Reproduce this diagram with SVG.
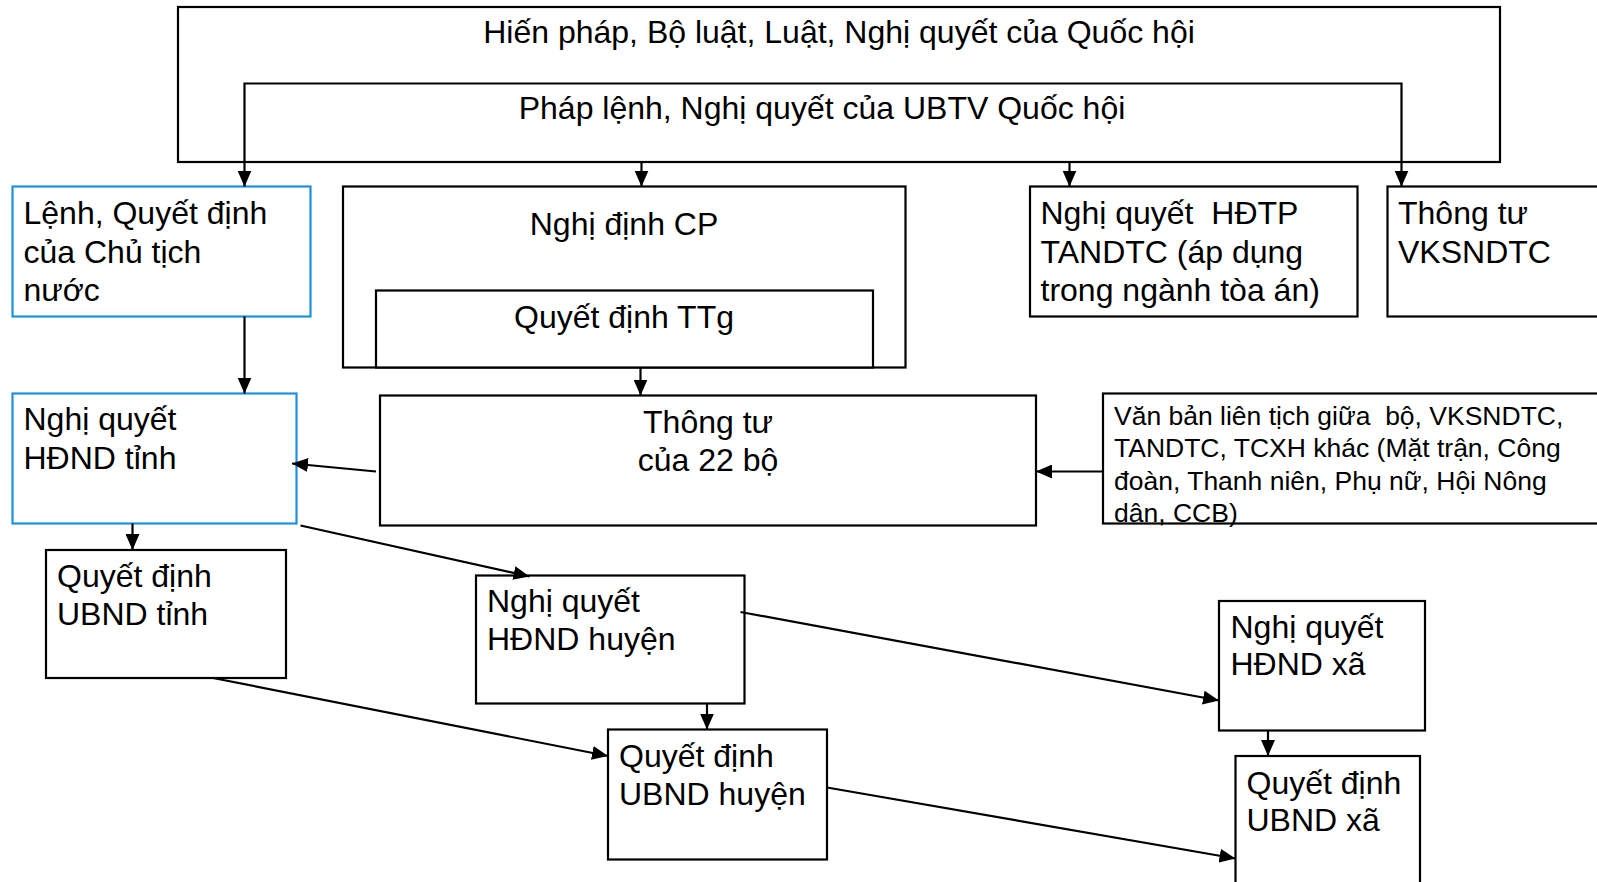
<svg xmlns="http://www.w3.org/2000/svg" width="1597" height="882" viewBox="0 0 1597 882">
<defs>
<style>
.box{fill:#fff;stroke:#000;stroke-width:2.2}
.bbox{fill:#fff;stroke:#1e90dc;stroke-width:2.2}
.t{font-family:"Liberation Sans",Arial,sans-serif;font-size:32px;fill:#000;white-space:pre}
.s{font-family:"Liberation Sans",Arial,sans-serif;font-size:26.5px;fill:#000;white-space:pre}
.c{text-anchor:middle}
.ln{fill:none;stroke:#000;stroke-width:2.2}
</style>
<marker id="ah" markerWidth="16" markerHeight="14" refX="16" refY="7" orient="auto" markerUnits="userSpaceOnUse"><path d="M0,0 L16,7 L0,14 z" fill="#000"/></marker>
</defs>
<rect width="1597" height="882" fill="#fff"/>

<g id="n-quochoi">
<rect class="box" x="178" y="7" width="1322" height="155"/>
<text class="t c" x="839" y="43">Hiến pháp, Bộ luật, Luật, Nghị quyết của Quốc hội</text>
</g>
<g id="n-ubtv">
<text class="t c" x="822" y="119">Pháp lệnh, Nghị quyết của UBTV Quốc hội</text>
</g>

<g id="n-chutich">
<rect class="bbox" x="12.5" y="186.5" width="298" height="130"/>
<text class="t" x="23.5" y="224">Lệnh, Quyết định</text>
<text class="t" x="23.5" y="262.5">của Chủ tịch</text>
<text class="t" x="23.5" y="301">nước</text>
</g>

<g id="n-nghidinh">
<rect class="box" x="343" y="186.5" width="562.5" height="181"/>
<text class="t c" x="624" y="235">Nghị định CP</text>
</g>
<g id="n-ttg">
<rect class="box" x="376" y="290.5" width="497" height="77"/>
<text class="t c" x="624" y="328">Quyết định TTg</text>
</g>

<g id="n-hdtp">
<rect class="box" x="1030" y="186.5" width="327.5" height="130"/>
<text class="t" x="1040.5" y="224">Nghị quyết  HĐTP</text>
<text class="t" x="1040.5" y="262.5">TANDTC (áp dụng</text>
<text class="t" x="1040.5" y="301">trong ngành tòa án)</text>
</g>

<g id="n-vks">
<rect class="box" x="1387.5" y="186.5" width="220" height="130"/>
<text class="t" x="1398" y="224">Thông tư</text>
<text class="t" x="1398" y="262.5">VKSNDTC</text>
</g>

<g id="n-hdndtinh">
<rect class="bbox" x="12.5" y="393.5" width="284" height="130"/>
<text class="t" x="23.5" y="430">Nghị quyết</text>
<text class="t" x="23.5" y="468.5">HĐND tỉnh</text>
</g>

<g id="n-thongtu">
<rect class="box" x="380" y="395.5" width="656" height="130"/>
<text class="t c" x="708" y="432.5">Thông tư</text>
<text class="t c" x="708" y="471">của 22 bộ</text>
</g>

<g id="n-lientich">
<rect class="box" x="1103" y="393.5" width="504" height="130"/>
<text class="s" x="1114" y="424.5">Văn bản liên tịch giữa  bộ, VKSNDTC,</text>
<text class="s" x="1114" y="457">TANDTC, TCXH khác (Mặt trận, Công</text>
<text class="s" x="1114" y="489.5">đoàn, Thanh niên, Phụ nữ, Hội Nông</text>
<text class="s" x="1114" y="521.5">dân, CCB)</text>
</g>

<g id="n-ubndtinh">
<rect class="box" x="46" y="550" width="240" height="128"/>
<text class="t" x="57" y="586.5">Quyết định</text>
<text class="t" x="57" y="624.5">UBND tỉnh</text>
</g>

<g id="n-hdndhuyen">
<rect class="box" x="476" y="575.5" width="268.5" height="128"/>
<text class="t" x="487" y="612">Nghị quyết</text>
<text class="t" x="487" y="650">HĐND huyện</text>
</g>

<g id="n-ubndhuyen">
<rect class="box" x="608" y="729.5" width="219" height="130"/>
<text class="t" x="619" y="767">Quyết định</text>
<text class="t" x="619" y="804.5">UBND huyện</text>
</g>

<g id="n-hdndxa">
<rect class="box" x="1219" y="601" width="206" height="129.5"/>
<text class="t" x="1230.5" y="637.5">Nghị quyết</text>
<text class="t" x="1230.5" y="675">HĐND xã</text>
</g>

<g id="n-ubndxa">
<rect class="box" x="1235.5" y="756" width="184.5" height="140"/>
<text class="t" x="1246.5" y="793.5">Quyết định</text>
<text class="t" x="1246.5" y="831">UBND xã</text>
</g>

<g id="connectors">
<polyline class="ln" points="244.5,162 244.5,83.5 1401.5,83.5 1401.5,186.5" marker-end="url(#ah)"/>
<line class="ln" x1="244.5" y1="162" x2="244.5" y2="186.5" marker-end="url(#ah)"/>
<line class="ln" x1="641.5" y1="162" x2="641.5" y2="186.5" marker-end="url(#ah)"/>
<line class="ln" x1="1069.5" y1="162" x2="1069.5" y2="186.5" marker-end="url(#ah)"/>
<line class="ln" x1="640.5" y1="367.5" x2="640.5" y2="395.5" marker-end="url(#ah)"/>
<line class="ln" x1="244.5" y1="316.5" x2="244.5" y2="393.5" marker-end="url(#ah)"/>
<line class="ln" x1="376" y1="471.5" x2="292" y2="463.5" marker-end="url(#ah)"/>
<line class="ln" x1="1103" y1="471.5" x2="1036" y2="471.5" marker-end="url(#ah)"/>
<line class="ln" x1="132.5" y1="523.5" x2="132.5" y2="550" marker-end="url(#ah)"/>
<line class="ln" x1="300.5" y1="525.5" x2="529.5" y2="576.5" marker-end="url(#ah)"/>
<line class="ln" x1="213" y1="678" x2="608" y2="756" marker-end="url(#ah)"/>
<line class="ln" x1="707" y1="703.5" x2="707" y2="729.5" marker-end="url(#ah)"/>
<line class="ln" x1="740.5" y1="612" x2="1219" y2="700.5" marker-end="url(#ah)"/>
<line class="ln" x1="1268" y1="730.5" x2="1268" y2="756" marker-end="url(#ah)"/>
<line class="ln" x1="827" y1="787.5" x2="1235.5" y2="858.5" marker-end="url(#ah)"/>
</g>
</svg>
